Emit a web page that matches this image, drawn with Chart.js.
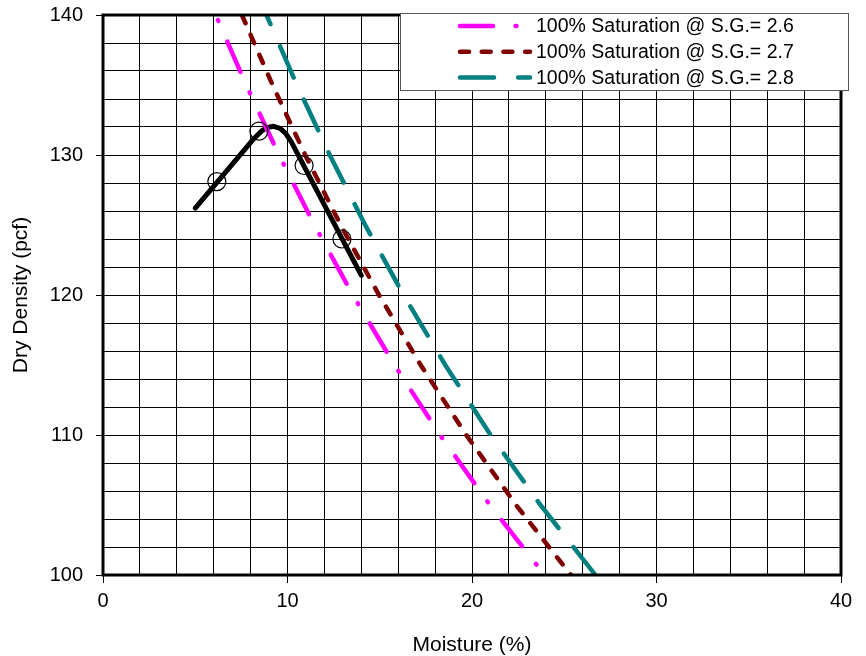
<!DOCTYPE html>
<html>
<head>
<meta charset="utf-8">
<title>Proctor</title>
<script src="https://cdn.jsdelivr.net/npm/chart.js@4.4.1/dist/chart.umd.min.js"></script>
<style>
    html, body { margin: 0; padding: 0; background: #fff; }
</style>
</head>
<body>
<canvas id="myChart" width="866" height="656"></canvas>
<script>
// Curva de compactacion (humedad %, densidad seca pcf)
const curvaHumedad = [5.0, 8.2, 8.6, 8.9, 9.25, 9.6, 9.9, 10.2, 14.0];
const curvaDensidad = [126.2, 131.2, 131.72, 131.97, 132.05, 131.9, 131.55, 130.95, 121.4];

// Puntos de ensayo
const ensayoHumedad = [6.17, 8.45, 10.9, 12.95];
const ensayoDensidad = [128.1, 131.7, 129.25, 124.0];

// Lineas de saturacion 100%
const satDensidad = [140, 135, 130, 125, 120, 115, 110, 105, 100];
const sat26 = [6.11, 7.76, 9.54, 11.46, 13.54, 15.80, 18.27, 20.97, 23.94];
const sat27 = [7.53, 9.19, 10.96, 12.88, 14.96, 17.22, 19.69, 22.39, 25.36];
const sat28 = [8.86, 10.51, 12.29, 14.21, 16.29, 18.55, 21.01, 23.71, 26.69];
const satEtiquetas = ['100% Saturation @ S.G.= 2.6', '100% Saturation @ S.G.= 2.7', '100% Saturation @ S.G.= 2.8'];

const xTicks = [0, 10, 20, 30, 40];
const yTicks = [100, 110, 120, 130, 140];

const fuente = 'Liberation Sans, Arial, sans-serif';

function puntos(xs, ys) {
    return xs.map((x, i) => ({ x: x, y: ys[i] }));
}

// marco negro alrededor del area de grafico
const marco = {
    id: 'marco',
    afterDatasetsDraw(chart) {
        const a = chart.chartArea;
        const ctx = chart.ctx;
        ctx.save();
        ctx.strokeStyle = '#000';
        ctx.lineWidth = 3;
        ctx.strokeRect(a.left, a.top, a.right - a.left, a.bottom - a.top);
        ctx.restore();
    }
};

// leyenda dentro del grafico, arriba a la derecha
const leyenda = {
    id: 'leyenda',
    afterDraw(chart) {
        const ctx = chart.ctx;
        ctx.save();
        ctx.fillStyle = '#fff';
        ctx.fillRect(400.5, 13.5, 448, 77);
        ctx.strokeStyle = '#555';
        ctx.lineWidth = 1;
        ctx.strokeRect(400.5, 13.5, 448, 77);
        chart.data.datasets.slice(0, 3).forEach(function(ds, i) {
            const y = 26 + i * 25.8;
            ctx.strokeStyle = ds.borderColor;
            ctx.lineWidth = ds.borderWidth;
            ctx.lineCap = 'round';
            ctx.setLineDash(ds.borderDash);
            ctx.lineDashOffset = 0;
            ctx.beginPath();
            ctx.moveTo(460, y);
            ctx.lineTo(530, y);
            ctx.stroke();
            ctx.setLineDash([]);
            ctx.fillStyle = '#000';
            ctx.font = '19.5px ' + fuente;
            ctx.textBaseline = 'middle';
            ctx.textAlign = 'left';
            ctx.fillText(ds.label, 536, y + 1);
        });
        ctx.restore();
    }
};

const ctx = document.getElementById('myChart').getContext('2d');
const myChart = new Chart(ctx, {
    type: 'scatter',
    data: {
        datasets: [{
            label: satEtiquetas[0],
            data: puntos(sat26, satDensidad),
            showLine: true,
            borderColor: '#ff00ff',
            borderWidth: 4.5,
            borderDash: [33, 22.5, 1, 22.5],
            borderDashOffset: 50,
            borderCapStyle: 'round',
            pointRadius: 0,
            clip: 0,
            order: 2
        }, {
            label: satEtiquetas[1],
            data: puntos(sat27, satDensidad),
            showLine: true,
            borderColor: '#800000',
            borderWidth: 4.5,
            borderDash: [9, 12.7],
            borderDashOffset: 0,
            borderCapStyle: 'round',
            pointRadius: 0,
            clip: 0,
            order: 4
        }, {
            label: satEtiquetas[2],
            data: puntos(sat28, satDensidad),
            showLine: true,
            borderColor: '#008080',
            borderWidth: 4.5,
            borderDash: [34, 24.2],
            borderDashOffset: 24,
            borderCapStyle: 'round',
            pointRadius: 0,
            clip: 0,
            order: 5
        }, {
            label: 'Curva',
            data: puntos(curvaHumedad, curvaDensidad),
            showLine: true,
            borderColor: '#000',
            borderWidth: 5,
            borderCapStyle: 'round',
            borderJoinStyle: 'round',
            tension: 0,
            pointRadius: 0,
            order: 3
        }, {
            label: 'Ensayos',
            data: puntos(ensayoHumedad, ensayoDensidad),
            showLine: false,
            pointRadius: 9,
            pointBorderWidth: 1.2,
            pointBorderColor: '#000',
            pointBackgroundColor: 'rgba(0,0,0,0)',
            order: 1
        }]
    },
    options: {
        responsive: false,
        animation: false,
        layout: {
            padding: { top: 15, right: 25, left: 0, bottom: 0 }
        },
        plugins: {
            legend: { display: false },
            tooltip: { enabled: false }
        },
        scales: {
            x: {
                type: 'linear',
                min: 0,
                max: 40,
                afterFit: function(s) {
                    s.height = 81;
                    s.paddingLeft = 0;
                    s.paddingRight = 0;
                },
                ticks: {
                    stepSize: 2,
                    autoSkip: false,
                    maxRotation: 0,
                    padding: 6,
                    color: '#000',
                    font: { family: fuente, size: 20 },
                    callback: v => xTicks.includes(v) ? String(v) : ''
                },
                grid: {
                    color: '#000',
                    lineWidth: 1,
                    tickLength: 8,
                    tickColor: c => (c.tick && xTicks.includes(c.tick.value)) ? '#000' : 'rgba(0,0,0,0)'
                },
                border: { display: false },
                title: {
                    display: true,
                    text: 'Moisture (%)',
                    color: '#000',
                    font: { family: fuente, size: 21, lineHeight: 1 },
                    padding: { top: 0, bottom: 0 }
                }
            },
            y: {
                type: 'linear',
                min: 100,
                max: 140,
                afterFit: function(s) {
                    s.width = 103;
                    s.paddingTop = 0;
                    s.paddingBottom = 0;
                },
                ticks: {
                    stepSize: 2,
                    autoSkip: false,
                    padding: 13,
                    color: '#000',
                    font: { family: fuente, size: 20 },
                    callback: v => yTicks.includes(v) ? String(v) : ''
                },
                grid: {
                    color: '#000',
                    lineWidth: 1,
                    tickLength: 7,
                    tickColor: c => (c.tick && yTicks.includes(c.tick.value)) ? '#000' : 'rgba(0,0,0,0)'
                },
                border: { display: false },
                title: {
                    display: true,
                    text: 'Dry Density (pcf)',
                    color: '#000',
                    font: { family: fuente, size: 21 },
                    padding: { top: 9, bottom: 0 }
                }
            }
        }
    },
    plugins: [marco, leyenda]
});
</script>
</body>
</html>
